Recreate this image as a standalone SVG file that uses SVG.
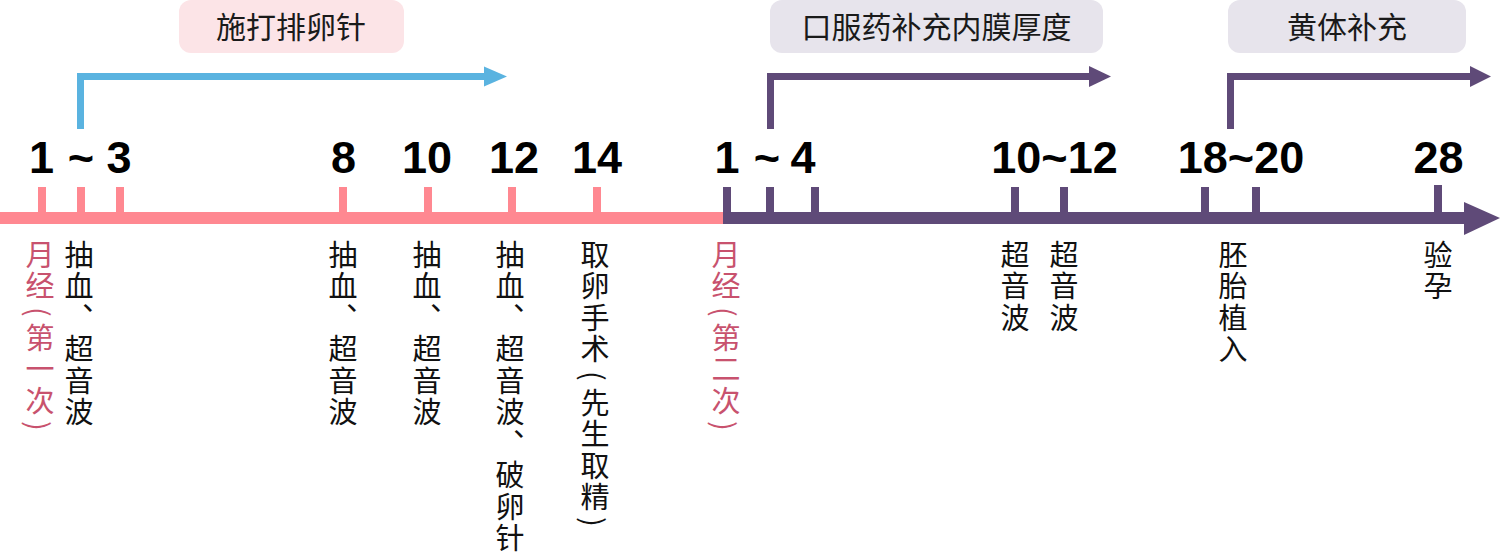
<svg xmlns="http://www.w3.org/2000/svg" width="1500" height="555" viewBox="0 0 1500 555">
<style>
.num{font-family:"Liberation Sans",Arial,sans-serif;font-weight:bold;font-size:45px;fill:#000;text-anchor:middle}
.box-t{font-family:"Noto Sans CJK SC",sans-serif;font-size:30px;fill:#1a1a1a;text-anchor:middle}
.vt{font-family:"Noto Sans CJK SC",sans-serif;font-size:29px;fill:#111;writing-mode:vertical-rl;letter-spacing:2.5px}
.vt.pink{fill:#c8526e}
.tick-p{fill:#ff8891}
.tick-u{fill:#5f4a78}
</style>
<rect width="1500" height="555" fill="#ffffff"/>

<g id="phase-labels">
  <g id="label-injection">
    <rect x="179" y="0" width="225" height="53" rx="12" fill="#fce4e7"/>
    <text class="box-t" x="291" y="38">施打排卵针</text>
  </g>
  <g id="label-oral">
    <rect x="770" y="0" width="333" height="53" rx="12" fill="#e7e4ec"/>
    <text class="box-t" x="936.5" y="38">口服药补充内膜厚度</text>
  </g>
  <g id="label-luteal">
    <rect x="1228" y="0" width="238" height="53" rx="12" fill="#e7e4ec"/>
    <text class="box-t" x="1347" y="38">黄体补充</text>
  </g>
</g>

<g id="connectors">
  <path d="M80.5 129 V76.5 H488" fill="none" stroke="#5ab3e0" stroke-width="7"/>
  <polygon points="484,66.5 507,76.5 484,86.5" fill="#5ab3e0"/>
  <path d="M770.5 129 V76.5 H1092" fill="none" stroke="#5f4a78" stroke-width="7"/>
  <polygon points="1089,66 1111,76.5 1089,87" fill="#5f4a78"/>
  <path d="M1230.5 129 V76.5 H1473" fill="none" stroke="#5f4a78" stroke-width="7"/>
  <polygon points="1470,66 1491,76.5 1470,87" fill="#5f4a78"/>
</g>

<g id="axis">
  <rect x="0" y="212" width="725" height="12" fill="#ff8891"/>
  <rect x="723" y="212" width="745" height="12" fill="#5f4a78"/>
  <polygon points="1464,202 1500,218 1464,235" fill="#5f4a78"/>
  <g id="ticks-cycle1" class="tick-p">
    <rect x="38" y="187" width="8" height="26"/>
    <rect x="77" y="187" width="8" height="26"/>
    <rect x="116" y="187" width="8" height="26"/>
    <rect x="339" y="187" width="8" height="26"/>
    <rect x="424" y="187" width="8" height="26"/>
    <rect x="508" y="187" width="8" height="26"/>
    <rect x="593" y="187" width="8" height="26"/>
  </g>
  <g id="ticks-cycle2" class="tick-u">
    <rect x="723" y="187" width="8" height="26"/>
    <rect x="766" y="187" width="8" height="26"/>
    <rect x="811" y="187" width="8" height="26"/>
    <rect x="1011" y="187" width="8" height="26"/>
    <rect x="1060" y="187" width="8" height="26"/>
    <rect x="1201" y="187" width="8" height="26"/>
    <rect x="1252" y="187" width="8" height="26"/>
    <rect x="1434" y="185" width="8" height="28"/>
  </g>
</g>

<g id="day-numbers">
  <text class="num" x="41.5" y="173">1</text>
  <text class="num" x="81" y="173">~</text>
  <text class="num" x="119" y="173">3</text>
  <text class="num" x="343.5" y="173">8</text>
  <text class="num" x="427" y="173">10</text>
  <text class="num" x="514" y="173">12</text>
  <text class="num" x="597" y="173">14</text>
  <text class="num" x="727" y="173">1</text>
  <text class="num" x="767" y="173">~</text>
  <text class="num" x="803" y="173">4</text>
  <text class="num" x="1054.5" y="173">10~12</text>
  <text class="num" x="1241" y="173">18~20</text>
  <text class="num" x="1438.5" y="173">28</text>
</g>

<g id="events">
  <g id="ev-period1"><text class="vt pink" x="40" y="240">月经<tspan dy="4">(</tspan><tspan dy="4">第一次</tspan><tspan dy="3">)</tspan></text></g>
  <g id="ev-d1"><text class="vt" x="79" y="240">抽血、超音波</text></g>
  <g id="ev-d8"><text class="vt" x="343" y="240">抽血、超音波</text></g>
  <g id="ev-d10"><text class="vt" x="427" y="240">抽血、超音波</text></g>
  <g id="ev-d12"><text class="vt" x="510" y="240">抽血、超音波、破卵针</text></g>
  <g id="ev-d14"><text class="vt" x="595" y="240">取卵手术<tspan dy="5">(</tspan><tspan dy="5">先生取精</tspan><tspan dy="3">)</tspan></text></g>
  <g id="ev-period2"><text class="vt pink" x="726" y="240">月经<tspan dy="4">(</tspan><tspan dy="4">第二次</tspan><tspan dy="3">)</tspan></text></g>
  <g id="ev-us1"><text class="vt" x="1015" y="240">超音波</text></g>
  <g id="ev-us2"><text class="vt" x="1064" y="240">超音波</text></g>
  <g id="ev-transfer"><text class="vt" x="1233" y="240">胚胎植入</text></g>
  <g id="ev-test"><text class="vt" x="1438" y="240">验孕</text></g>
</g>
</svg>
